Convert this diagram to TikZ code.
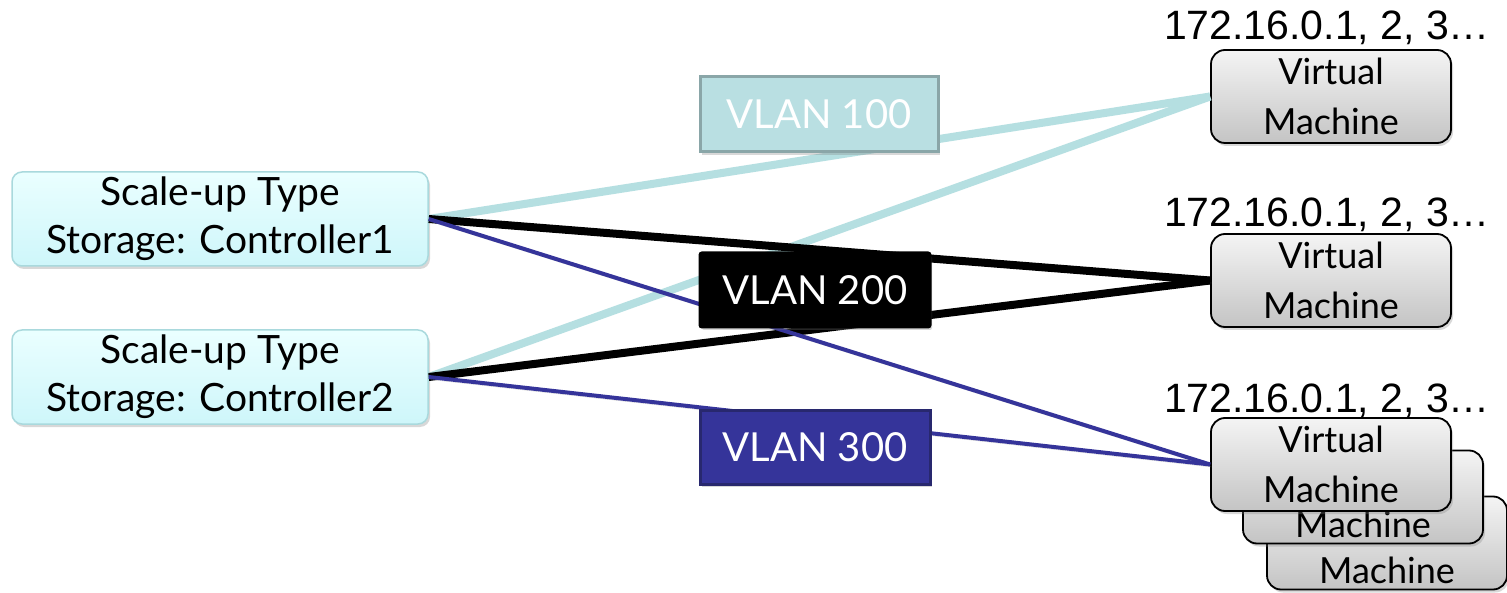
\documentclass[tikz,border=0pt]{standalone}
\usepackage{fontspec}
\setmainfont{Lato}
\newfontfamily\arialfont{Liberation Sans}
\usetikzlibrary{shadows}
\definecolor{tealline}{RGB}{181,223,225}
\definecolor{vlanteal}{RGB}{185,223,226}
\definecolor{vlantealdraw}{RGB}{138,166,168}
\definecolor{vlanblue}{RGB}{53,52,154}
\definecolor{vlanbluedraw}{RGB}{40,40,110}
\definecolor{ctrltop}{RGB}{234,255,255}
\definecolor{ctrlbot}{RGB}{206,246,250}
\definecolor{ctrldraw}{RGB}{169,217,221}
\definecolor{vmtop}{RGB}{244,244,244}
\definecolor{vmbot}{RGB}{196,196,196}
\tikzset{
  shd/.style={drop shadow={shadow xshift=2pt,shadow yshift=-3pt,opacity=0.3}},
  ctrlbox/.style={rounded corners=10pt, draw=ctrldraw, line width=1.5pt,
    top color=ctrltop, bottom color=ctrlbot, shd,
    minimum width=416pt, minimum height=94pt, inner sep=0pt,
    align=center, font=\fontsize{39}{48}\selectfont},
  vlanbox/.style={draw, line width=3pt, minimum width=230pt, minimum height=74pt,
    inner sep=0pt, text=white, font=\fontsize{40}{46}\selectfont, shd},
  vmbox/.style={rounded corners=14pt, draw=black, line width=1.8pt,
    top color=vmtop, bottom color=vmbot, shd,
    minimum width=240pt, minimum height=93pt, inner sep=0pt,
    align=center, font=\fontsize{36}{50}\selectfont},
  vmtext/.style={font=\fontsize{36}{50}\selectfont, anchor=base, inner sep=0pt},
  iplabel/.style={anchor=base, inner sep=0pt, font=\arialfont\fontsize{41}{44}\selectfont},
  lshadow/.style={preaction={draw=black!60, opacity=0.3,
    transform canvas={shift={(1.5pt,-2.5pt)}}}},
  tealconn/.style={draw=tealline, line width=8pt, lshadow},
  blackconn/.style={draw=black, line width=8pt, lshadow},
  blueconn/.style={draw=vlanblue, line width=4pt, lshadow}
}
\begin{document}
\begin{tikzpicture}[x=1pt,y=-1pt]
\fill[white] (0,0) rectangle (1507,593);
\useasboundingbox (0,0) rectangle (1507,593);
% controllers
\node[ctrlbox] (c1) at (220,219) {Scale-up Type\\Storage: Controller1};
\node[ctrlbox] (c2) at (220,377) {Scale-up Type\\Storage: Controller2};
% stacked VMs (back)
\node[vmbox] (vm3c) at (1387,543) {};
\node[vmtext] (vm3ct) at (1387,583) {Machine};
\node[vmbox] (vm3b) at (1363,497) {};
\node[vmtext] (vm3bt) at (1363,537) {Machine};
% VMs
\node[vmbox] (vm1) at (1331,96.5) {Virtual\\Machine};
\node[vmbox] (vm2) at (1331,280.5) {Virtual\\Machine};
\node[vmbox] (vm3) at (1331,464.5) {Virtual\\Machine};
% IP labels
\node[iplabel] (ip1) at (1327,40) {172.16.0.1, 2, 3…};
\node[iplabel] (ip2) at (1327,227) {172.16.0.1, 2, 3…};
\node[iplabel] (ip3) at (1327,412) {172.16.0.1, 2, 3…};
% connectors
\draw[tealconn] (c1.east) -- (vm1.west);
\draw[tealconn] (c2.east) -- (vm1.west);
\draw[blackconn] (c1.east) -- (vm2.west);
\draw[blackconn] (c2.east) -- (vm2.west);
\draw[blueconn] (c1.east) -- (vm3.west);
\draw[blueconn] (c2.east) -- (vm3.west);
% VLAN labels
\node[vlanbox, fill=vlanteal, draw=vlantealdraw, minimum width=238pt, minimum height=75pt] (v100) at (819,114.5) {VLAN 100};
\node[vlanbox, fill=black, draw=black, rounded corners=2pt] (v200) at (815,290) {VLAN 200};
\node[vlanbox, fill=vlanblue, draw=vlanbluedraw] (v300) at (815,447) {VLAN 300};
\end{tikzpicture}
\end{document}
